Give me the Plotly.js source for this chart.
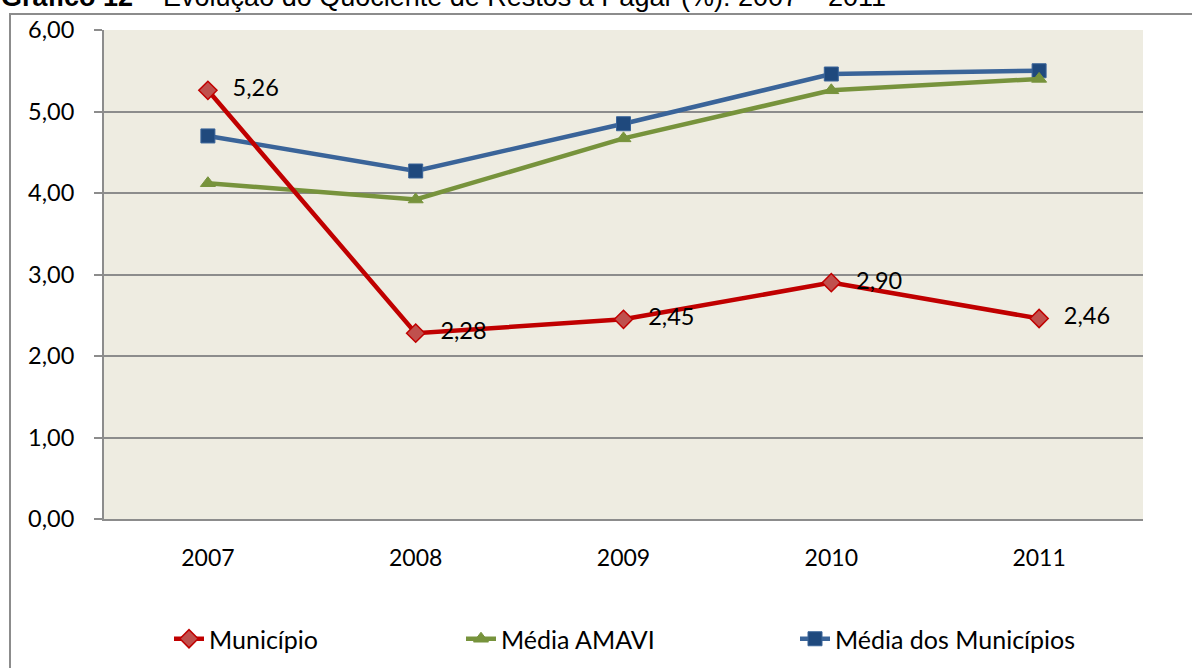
<!DOCTYPE html>
<html>
<head>
<meta charset="utf-8">
<script src="https://cdn.plot.ly/plotly-3.0.1.min.js"></script>
<style>html,body{margin:0;padding:0;background:#fff;}#chart{width:1192px;height:668px;}</style>
</head>
<body>
<div id="chart"></div>
<script>
const years = ["2007", "2008", "2009", "2010", "2011"];
const municipio = [5.26, 2.28, 2.45, 2.90, 2.46];
const mediaAmavi = [4.12, 3.92, 4.67, 5.26, 5.40];
const mediaMunicipios = [4.70, 4.27, 4.85, 5.46, 5.50];
const seriesNames = ["Município", "Média AMAVI", "Média dos Municípios"];
const yTicks = [0, 1, 2, 3, 4, 5, 6];

const FONT = "Lato, 'Open Sans', sans-serif";
const fmt = v => v.toFixed(2).replace('.', ',');

const W = 1192, H = 668, L = 104, R = 49, T = 30, B = 149;
const pw = W - L - R, ph = H - T - B;
const px2x = p => (p - L) / pw;
const py2y = p => (H - B - p) / ph;

const traces = [
  {
    x: years, y: mediaMunicipios, name: seriesNames[2], type: 'scatter', mode: 'lines+markers',
    line: {color: '#3A6499', width: 4.5},
    marker: {symbol: 'square', size: 14, color: '#1F497D', line: {color: '#3A6499', width: 1}},
    legend: 'legend3', hoverinfo: 'skip'
  },
  {
    x: years, y: mediaAmavi, name: seriesNames[1], type: 'scatter', mode: 'lines+markers',
    line: {color: '#77933C', width: 4.5},
    marker: {symbol: 'triangle-up', size: 13, color: '#77933C', line: {color: '#77933C', width: 1}},
    legend: 'legend2', hoverinfo: 'skip'
  },
  {
    x: years, y: municipio, name: seriesNames[0], type: 'scatter', mode: 'lines+markers+text',
    line: {color: '#C00000', width: 4.5},
    marker: {symbol: 'diamond', size: 14, color: '#C0504D', line: {color: '#C00000', width: 1.5}},
    text: municipio.map(v => '\u00a0\u00a0\u2009' + fmt(v)), textposition: 'middle right',
    textfont: {family: FONT, size: 23.5, color: '#000'},
    legend: 'legend', hoverinfo: 'skip'
  }
];

const legendBase = {
  orientation: 'h', yref: 'container', xref: 'paper', yanchor: 'middle', xanchor: 'left',
  y: (H - 639) / H, font: {family: FONT, size: 25, color: '#000'}, bgcolor: 'rgba(0,0,0,0)',
  itemwidth: 30
};

const layout = {
  width: W, height: H,
  margin: {l: L, r: R, t: T, b: B, autoexpand: false},
  paper_bgcolor: '#ffffff',
  plot_bgcolor: '#EEECE1',
  font: {family: FONT, size: 23, color: '#000'},
  separators: ',.',
  showlegend: true,
  legend: Object.assign({}, legendBase, {x: px2x(169)}),
  legend2: Object.assign({}, legendBase, {x: px2x(461)}),
  legend3: Object.assign({}, legendBase, {x: px2x(795)}),
  xaxis: {
    type: 'category', range: [-0.5, 4.5], showgrid: false, zeroline: false, automargin: false,
    showline: true, linecolor: '#8C8C8C', linewidth: 2, ticks: '',
    tickfont: {family: FONT, size: 23, color: '#000'}, ticklabelstandoff: 17, fixedrange: true
  },
  yaxis: {
    range: [0, 6], tickvals: yTicks, ticktext: yTicks.map(fmt), automargin: false,
    showgrid: true, gridcolor: '#8C8C8C', gridwidth: 2, zeroline: false,
    showline: true, linecolor: '#8C8C8C', linewidth: 2,
    ticks: 'outside', ticklen: 8, tickcolor: '#8C8C8C', tickwidth: 2,
    tickfont: {family: FONT, size: 23.5, color: '#000'}, ticklabelstandoff: 15, fixedrange: true
  },
  shapes: [
    {type: 'rect', xref: 'paper', yref: 'paper', x0: px2x(10), x1: px2x(1250), y0: py2y(700), y1: py2y(14),
     line: {color: '#8C8C8C', width: 2}, fillcolor: 'rgba(0,0,0,0)', layer: 'below'}
  ],
  annotations: [
    {xref: 'paper', yref: 'paper', x: px2x(-1), y: py2y(14), xanchor: 'left', yanchor: 'bottom',
     showarrow: false, align: 'left',
     text: '<b>Gráfico 12</b> – Evolução do Quociente de Restos a Pagar (%): 2007 – 2011',
     font: {family: "'Liberation Sans', Arial, sans-serif", size: 27, color: '#000'}}
  ]
};

Plotly.newPlot('chart', traces, layout, {displayModeBar: false, staticPlot: true});
</script>
</body>
</html>
